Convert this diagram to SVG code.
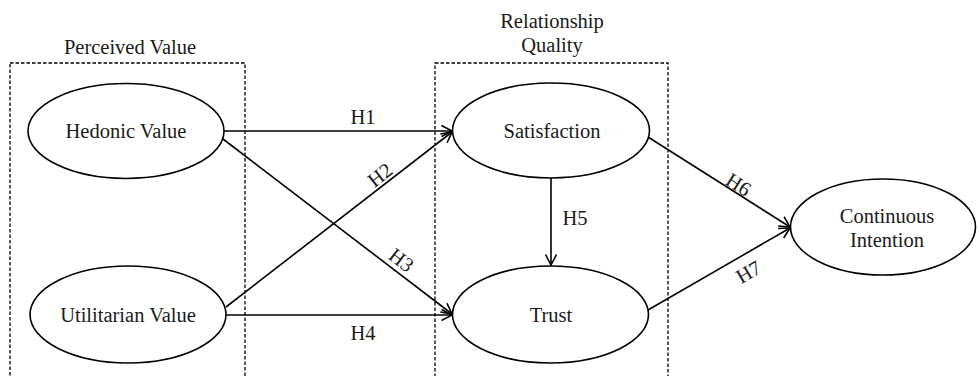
<svg xmlns="http://www.w3.org/2000/svg" width="979" height="376" viewBox="0 0 979 376">
<style>
text{font-family:"Liberation Serif","Times New Roman",serif;font-size:20.5px;fill:#1a1a1a;text-anchor:middle}
.box{fill:none;stroke:#000;stroke-width:1.3;stroke-dasharray:3.5,2}
.node{fill:#fff;stroke:#000;stroke-width:1.6}
.edge{fill:none;stroke:#000;stroke-width:1.6;marker-end:url(#arr)}
</style>
<defs>
<marker id="arr" markerUnits="userSpaceOnUse" markerWidth="14" markerHeight="14" viewBox="0 0 14 14" refX="12" refY="7" orient="auto">
<path d="M1.5,1.5 L12,7 L1.5,12.5" fill="none" stroke="#000" stroke-width="1.6"/>
</marker>
</defs>
<rect width="979" height="376" fill="#fff"/>
<g id="group-perceived-value">
<rect class="box" x="10" y="63" width="235" height="320"/>
<text x="130" y="54">Perceived Value</text>
</g>
<g id="group-relationship-quality">
<rect class="box" x="435" y="63" width="233" height="320"/>
<text x="552" y="28">Relationship</text>
<text x="552" y="52">Quality</text>
</g>
<g id="connectors">
<line class="edge" x1="224" y1="131" x2="452" y2="131"/>
<line class="edge" x1="226" y1="307" x2="452" y2="132"/>
<line class="edge" x1="223" y1="139" x2="452" y2="314"/>
<line class="edge" x1="226" y1="315" x2="452" y2="315"/>
<line class="edge" x1="551" y1="178" x2="551" y2="265"/>
<line class="edge" x1="648" y1="137" x2="790" y2="227"/>
<line class="edge" x1="648" y1="310" x2="790" y2="228"/>
<text x="363" y="124">H1</text>
<text transform="translate(380,175) rotate(-38)" y="7">H2</text>
<text transform="translate(401.5,260) rotate(37.5)" y="7">H3</text>
<text x="363" y="340">H4</text>
<text x="575" y="225">H5</text>
<text transform="translate(738.5,184.5) rotate(32.4)" y="7">H6</text>
<text transform="translate(748.5,272) rotate(-30.3)" y="7">H7</text>
</g>
<g id="node-hedonic">
<ellipse class="node" cx="126" cy="131" rx="98" ry="47.5"/>
<text x="126" y="138">Hedonic Value</text>
</g>
<g id="node-utilitarian">
<ellipse class="node" cx="128" cy="314.5" rx="98" ry="48.5"/>
<text x="128" y="322">Utilitarian Value</text>
</g>
<g id="node-satisfaction">
<ellipse class="node" cx="551" cy="130.5" rx="98.5" ry="47.5"/>
<text x="552" y="138">Satisfaction</text>
</g>
<g id="node-trust">
<ellipse class="node" cx="550.5" cy="314.5" rx="98" ry="48.5"/>
<text x="551" y="322">Trust</text>
</g>
<g id="node-continuous">
<ellipse class="node" cx="883" cy="227" rx="92.5" ry="48"/>
<text x="887" y="223">Continuous</text>
<text x="887" y="247">Intention</text>
</g>
</svg>
